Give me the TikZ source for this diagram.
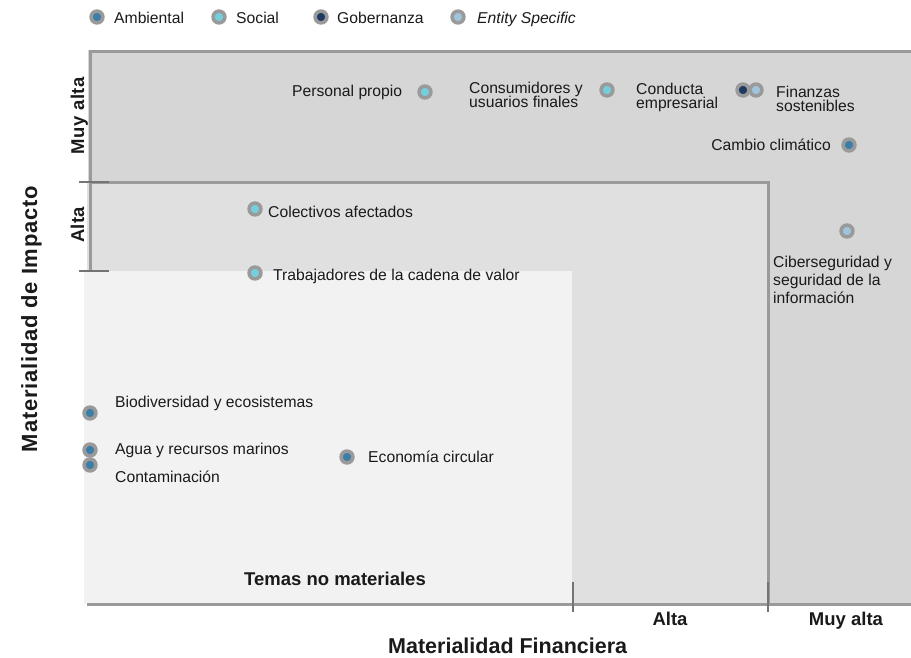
\documentclass[tikz,border=0pt]{standalone}
\usepackage{fontspec}
\setmainfont{Liberation Sans}
\definecolor{bgdark}{HTML}{D6D6D6}
\definecolor{bgmid}{HTML}{E0E0E0}
\definecolor{bglight}{HTML}{F2F2F2}
\definecolor{edge}{HTML}{9A9A9A}
\definecolor{tickc}{HTML}{747474}
\definecolor{ring}{HTML}{9A9A9A}
\definecolor{amb}{HTML}{3D7EA6}
\definecolor{soc}{HTML}{74CFDD}
\definecolor{gob}{HTML}{1F3A60}
\definecolor{ent}{HTML}{9FC5DC}
\definecolor{txt}{HTML}{1A1A1A}
\newcommand\mytightlines{\lineskiplimit=-50pt\relax\lineskip=0pt\relax}
\tikzset{
  dot/.style={circle, inner sep=0pt, minimum size=11.8pt, line width=3.6pt, draw=ring, fill=#1},
  lbl/.style={inner sep=0pt, text=txt, font=\fontsize{15.7}{14}\selectfont\mytightlines},
  lblwide/.style={inner sep=0pt, text=txt, font=\fontsize{15.7}{18}\selectfont\mytightlines},
  boldlbl/.style={inner sep=0pt, text=txt, font=\fontsize{18.5}{20}\selectfont\bfseries},
  axislbl/.style={inner sep=0pt, text=txt, font=\fontsize{21.5}{24}\selectfont\bfseries},
  border/.style={draw=edge, line width=3pt},
  tickmark/.style={draw=tickc, line width=2pt},
}
\begin{document}
\begin{tikzpicture}[x=1pt, y=-1pt]
\useasboundingbox (0,0) rectangle (911,657);
% regions
\fill[bgdark] (88,50) rectangle (911,604);
\fill[bgmid] (87,182) rectangle (768,604);
\fill[bglight] (84,271) rectangle (572,604);
% borders
\coordinate (tl) at (90,50);
\coordinate (tr) at (911,51);
\coordinate (tlx) at (89,51);
\coordinate (ml) at (90,271);
\coordinate (mt) at (90,182);
\coordinate (mr) at (768,182);
\coordinate (mb) at (768,604);
\coordinate (bl) at (87,604);
\coordinate (br) at (911,604);
\draw[border] (tlx) -- (tr);
\draw[border] (tl) -- (ml);
\draw[border] (mt) -- (mr) -- (mb);
\draw[border] (bl) -- (br);
% ticks
\coordinate (t1a) at (79,182); \coordinate (t1b) at (109,182);
\coordinate (t2a) at (79,271); \coordinate (t2b) at (109,271);
\coordinate (t3a) at (573,582); \coordinate (t3b) at (573,612);
\coordinate (t4a) at (768,582); \coordinate (t4b) at (768,612);
\draw[tickmark] (t1a) -- (t1b);
\draw[tickmark] (t2a) -- (t2b);
\draw[tickmark] (t3a) -- (t3b);
\draw[tickmark] (t4a) -- (t4b);
% legend
\node[dot=amb] (lg1) at (97,17) {};
\node[lbl, anchor=base west] (lt1) at (114,23) {Ambiental};
\node[dot=soc] (lg2) at (219,17) {};
\node[lbl, anchor=base west] (lt2) at (236,23) {Social};
\node[dot=gob] (lg3) at (321,17) {};
\node[lbl, anchor=base west] (lt3) at (337,23) {Gobernanza};
\node[dot=ent] (lg4) at (458,17) {};
\node[lbl, anchor=base west] (lt4) at (477,23) {\itshape Entity Specific};
% axis labels
\node[axislbl, anchor=base west] (xax) at (388,653) {Materialidad Financiera};
\node[axislbl, anchor=base, rotate=90, font=\fontsize{22}{24}\selectfont\bfseries\addfontfeature{LetterSpace=3.5}] (yax) at (37,319) {Materialidad de Impacto};
\node[boldlbl, anchor=base, rotate=90, font=\fontsize{18.5}{20}\selectfont\bfseries\addfontfeature{LetterSpace=3.5}] (ymuy) at (84,116) {Muy alta};
\node[boldlbl, anchor=base, rotate=90] (yalta) at (84,225) {Alta};
\node[boldlbl, anchor=base] (xalta) at (670,625) {Alta};
\node[boldlbl, anchor=base] (xmuy) at (846,625) {Muy alta};
\node[boldlbl, anchor=base] (temas) at (335,585) {Temas no materiales};
% topics
\node[dot=soc] (d1) at (425,92) {};
\node[lbl, anchor=base west] (t1) at (292,96) {Personal propio};
\node[dot=soc] (d2) at (607,90) {};
\node[lbl, anchor=north west, align=left] (t2) at (469,82) {Consumidores y\\usuarios finales};
\node[dot=gob] (d3) at (743,90) {};
\node[lbl, anchor=north west, align=left] (t3) at (636,83) {Conducta\\empresarial};
\node[dot=ent] (d4) at (756,90) {};
\node[lbl, anchor=north west, align=left] (t4) at (776,86) {Finanzas\\sostenibles};
\node[dot=amb] (d5) at (849,145) {};
\node[lbl, anchor=base east] (t5) at (831,150) {Cambio climático};
\node[dot=soc] (d6) at (255,209) {};
\node[lbl, anchor=base west] (t6) at (268,217) {Colectivos afectados};
\node[dot=ent] (d7) at (847,231) {};
\node[lblwide, anchor=north west, align=left] (t7) at (773,255.5) {Ciberseguridad y\\seguridad de la\\información};
\node[dot=soc] (d8) at (255,273) {};
\node[lbl, anchor=base west] (t8) at (273,280) {Trabajadores de la cadena de valor};
\node[dot=amb] (d9) at (90,413) {};
\node[lbl, anchor=base west] (t9) at (115,407) {Biodiversidad y ecosistemas};
\node[dot=amb] (d10) at (90,450) {};
\node[lbl, anchor=base west] (t10) at (115,454) {Agua y recursos marinos};
\node[dot=amb] (d11) at (90,465) {};
\node[lbl, anchor=base west] (t11) at (115,482) {Contaminación};
\node[dot=amb] (d12) at (347,457) {};
\node[lbl, anchor=base west] (t12) at (368,462) {Economía circular};
\end{tikzpicture}
\end{document}
